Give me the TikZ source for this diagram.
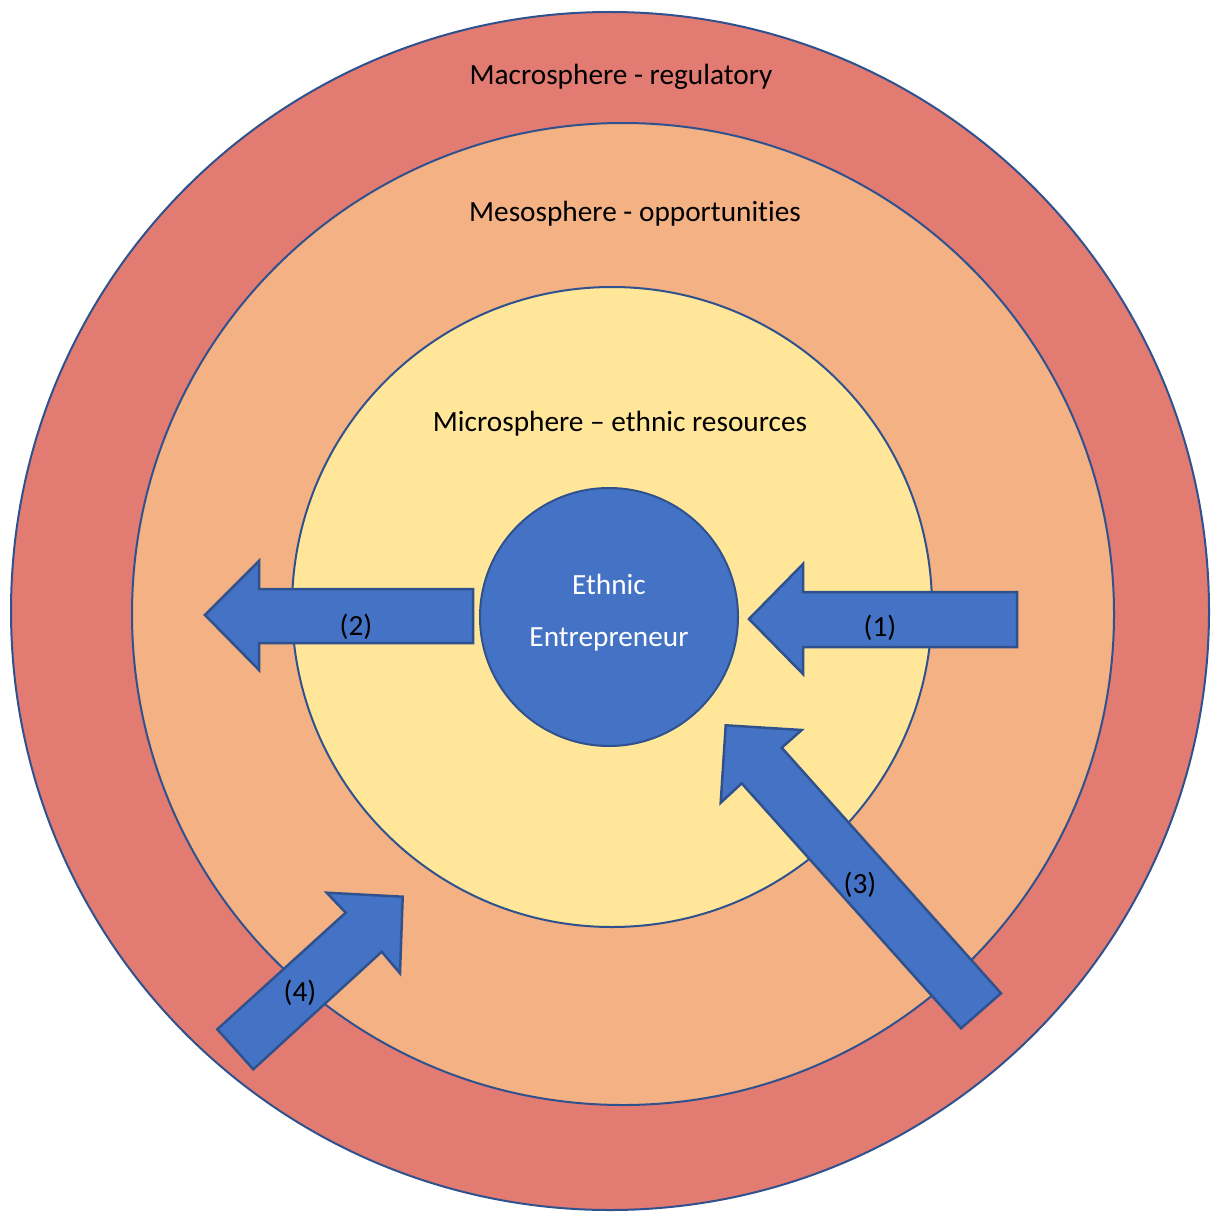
\documentclass[tikz,border=0pt]{standalone}
\usepackage{fontspec}
\setmainfont[Ligatures=NoCommon]{Carlito}
\usetikzlibrary{calc}
\definecolor{macrored}{HTML}{E27B72}
\definecolor{mesoorange}{HTML}{F4B183}
\definecolor{microyellow}{HTML}{FFE699}
\definecolor{entreblue}{HTML}{4472C4}
\definecolor{rimblue}{HTML}{2F528F}
\tikzset{
	sphere/.style={draw=rimblue, line width=2pt},
	blockarrow/.style={draw=rimblue, line width=2.5pt, fill=entreblue, line join=miter},
	spherelabel/.style={font=\fontsize{29.3}{35}\selectfont, text=black, inner sep=0pt},
	arrowlabel/.style={font=\fontsize{29.3}{35}\selectfont, text=black, inner sep=0pt}
}

\begin{document}
\begin{tikzpicture}[x=1pt, y=-1pt]
			%%%%% START %%%%%
			\useasboundingbox (0, 0) rectangle (1211, 1212);
			
			\draw[sphere, fill=macrored] (610, 611) circle (599);
			\draw[sphere, fill=mesoorange] (623, 614) circle (491);
			\draw[sphere, fill=microyellow] (612, 607) circle (320);
			\draw[sphere, fill=entreblue] (609, 617) circle (129);
			
			\node[spherelabel] (macro) at (621, 77) {Macrosphere - regulatory};
			\node[spherelabel] (meso) at (635, 214) {Mesosphere - opportunities};
			\node[spherelabel] (micro) at (620, 424) {Microsphere – ethnic resources};
			\node[spherelabel, text=white] (ethnic) at (609, 584) {Ethnic};
			\node[spherelabel, text=white] (entre) at (609, 639) {Entrepreneur};
			
			% (1) into the centre from the right
			\draw[blockarrow] (1017, 592) -- (803, 592) -- (803, 564) -- (749, 619)
				-- (803, 674) -- (803, 647) -- (1017, 647) -- cycle;
			% (2) out of the centre to the left
			\draw[blockarrow] (473, 589) -- (259, 589) -- (259, 561) -- (205, 615)
				-- (259, 670) -- (259, 643) -- (473, 643) -- cycle;
			% (3) from the macrosphere to the centre
			\draw[blockarrow] (725.7, 725.3) -- (801.7, 730) -- (781.7, 747.7) -- (1001, 993.3)
				-- (961, 1028.3) -- (741.7, 783.3) -- (720.7, 802.7) -- cycle;
			% (4) from the macrosphere to the mesosphere
			\draw[blockarrow] (402.7, 896.7) -- (400, 973.3) -- (381.7, 951.7) -- (253.3, 1069.3)
				-- (217.3, 1029.3) -- (345.7, 912.7) -- (326.7, 892.7) -- cycle;
			
			\node[arrowlabel] (one) at (880, 628) {(1)};
			\node[arrowlabel] (two) at (356, 627) {(2)};
			\node[arrowlabel] (three) at (860, 885) {(3)};
			\node[arrowlabel] (four) at (300, 993) {(4)};
			
			%%%%% END %%%%%
		\end{tikzpicture}
\end{document}
